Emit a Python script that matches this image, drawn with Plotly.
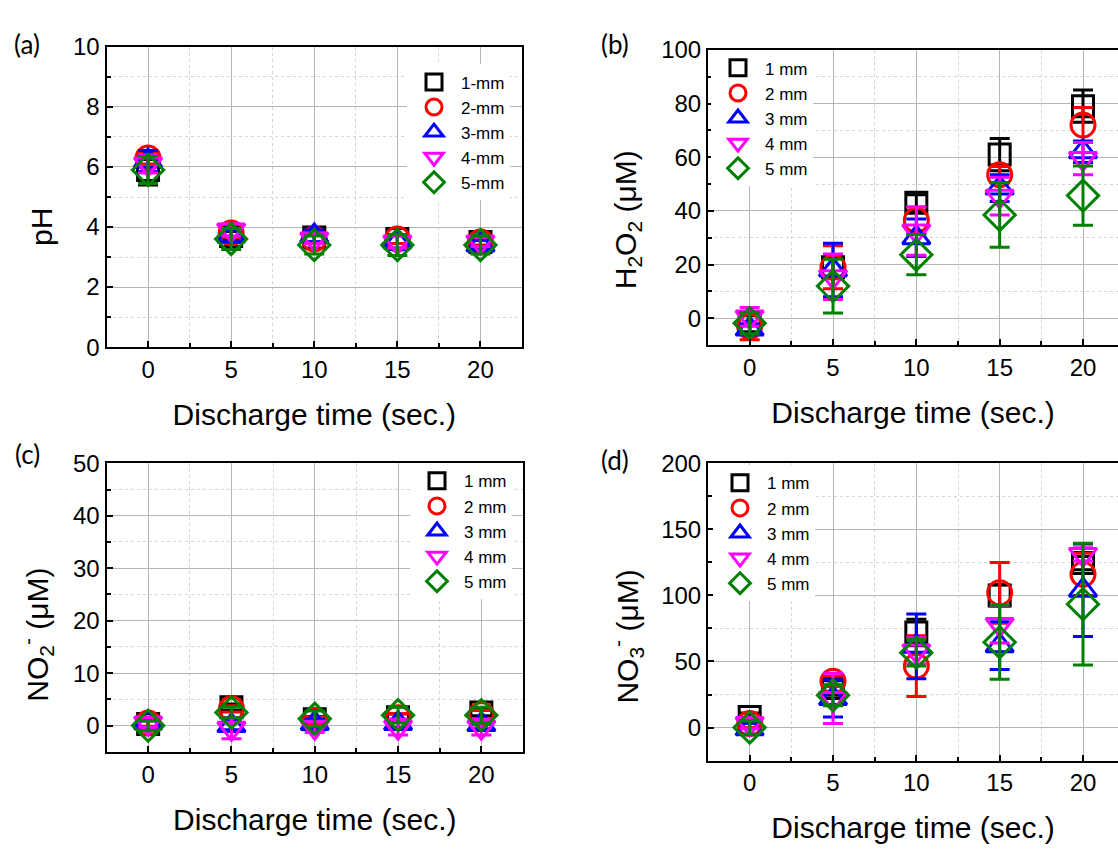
import plotly.graph_objects as go

# ---------------- data ----------------
times = [0, 5, 10, 15, 20]
labels_a = ["1-mm", "2-mm", "3-mm", "4-mm", "5-mm"]
labels_b = ["1 mm", "2 mm", "3 mm", "4 mm", "5 mm"]

ph_1 = [5.9, 3.7, 3.65, 3.6, 3.5]
ph_2 = [6.3, 3.8, 3.6, 3.6, 3.5]
ph_3 = [6.2, 3.7, 3.7, 3.5, 3.4]
ph_4 = [6.1, 3.9, 3.6, 3.5, 3.5]
ph_5 = [5.9, 3.6, 3.4, 3.4, 3.4]
ph_err_1 = [0.5, 0.15, 0.15, 0.15, 0.15]
ph_err_2 = [0.2, 0.15, 0.15, 0.15, 0.1]
ph_err_3 = [0.35, 0.2, 0.2, 0.25, 0.15]
ph_err_4 = [0.3, 0.2, 0.15, 0.2, 0.15]
ph_err_5 = [0.45, 0.35, 0.3, 0.35, 0.3]

h2o2_1 = [-2, 19, 43, 61, 79]
h2o2_2 = [-3, 19, 36.5, 53.5, 72]
h2o2_3 = [-4, 18, 30, 48.5, 62]
h2o2_4 = [0.5, 15.5, 32.5, 45.5, 59.5]
h2o2_5 = [-1.8, 12, 23.7, 38.5, 45.7]
h2o2_err_1 = [3, 4, 3, 6, 6]
h2o2_err_2 = [5, 8, 5, 3, 6.5]
h2o2_err_3 = [2, 10, 7, 5, 4]
h2o2_err_4 = [3.5, 8.5, 9, 7, 6]
h2o2_err_5 = [4, 10, 7.5, 12, 11]

no2_1 = [0.3, 3.5, 1.2, 1.6, 2.5]
no2_2 = [0.5, 3.2, 1.0, 1.5, 2.1]
no2_3 = [0.5, 0.0, 0.4, 0.4, 0.2]
no2_4 = [0.5, -0.5, -0.3, -0.3, -0.3]
no2_5 = [0.0, 2.5, 1.3, 2.0, 2.0]
no2_err_1 = [0.6, 0.6, 0.5, 0.6, 0.6]
no2_err_2 = [0.6, 0.6, 0.6, 0.8, 0.8]
no2_err_3 = [1.0, 0.8, 0.8, 0.8, 0.8]
no2_err_4 = [0.8, 2.0, 1.0, 1.5, 1.5]
no2_err_5 = [1.0, 1.0, 1.5, 1.5, 1.5]

no3_1 = [8, 30, 72, 100, 124.5]
no3_2 = [3, 35, 46.5, 102, 116]
no3_3 = [-1, 22, 61.5, 62, 104]
no3_4 = [3, 22, 58, 78, 131]
no3_5 = [0, 24.4, 56.6, 64.6, 93.4]
no3_err_1 = [3, 5.5, 10, 8, 5]
no3_err_2 = [3, 4, 23, 23, 16]
no3_err_3 = [4, 14, 24.5, 18, 35]
no3_err_4 = [4, 19, 10, 14, 5]
no3_err_5 = [5, 8, 10, 28, 46]

# ---------------- style ----------------
W, H = 1118, 852
colors = ["#000000", "#ff0000", "#0000ff", "#ff00ff", "#008000"]
symbols = ["square-open", "circle-open", "triangle-up-open", "triangle-down-open", "diamond-open"]
sizes = [21, 24, 24, 24, 24]
FONT = "Arial, Liberation Sans, sans-serif"

panels = [
    dict(vals=[ph_1, ph_2, ph_3, ph_4, ph_5],
         errs=[ph_err_1, ph_err_2, ph_err_3, ph_err_4, ph_err_5],
         names=labels_a, xs="x", ys="y", legend="legend"),
    dict(vals=[h2o2_1, h2o2_2, h2o2_3, h2o2_4, h2o2_5],
         errs=[h2o2_err_1, h2o2_err_2, h2o2_err_3, h2o2_err_4, h2o2_err_5],
         names=labels_b, xs="x2", ys="y2", legend="legend2"),
    dict(vals=[no2_1, no2_2, no2_3, no2_4, no2_5],
         errs=[no2_err_1, no2_err_2, no2_err_3, no2_err_4, no2_err_5],
         names=labels_b, xs="x3", ys="y3", legend="legend3"),
    dict(vals=[no3_1, no3_2, no3_3, no3_4, no3_5],
         errs=[no3_err_1, no3_err_2, no3_err_3, no3_err_4, no3_err_5],
         names=labels_b, xs="x4", ys="y4", legend="legend4"),
]

fig = go.Figure()
for p in panels:
    for i in range(5):
        fig.add_trace(go.Scatter(
            x=times, y=p["vals"][i], name=p["names"][i], mode="markers",
            xaxis=p["xs"], yaxis=p["ys"], legend=p["legend"],
            marker=dict(symbol=symbols[i], size=sizes[i], color=colors[i],
                        line=dict(width=3, color=colors[i])),
            error_y=dict(type="data", array=p["errs"][i], visible=True,
                         color=colors[i], thickness=3, width=10),
        ))


def px_x(v):
    return v / W


def px_y(v):
    return 1 - v / H


title_font = dict(family=FONT, size=30, color="black")
XTITLE = "Discharge time (sec.)"


def xaxis(dom, rng, anchor):
    return dict(domain=dom, range=rng, anchor=anchor, tickvals=times,
                ticks="inside", ticklen=6, tickwidth=1.5, tickcolor="black",
                showline=True, linewidth=2, linecolor="black", mirror=True,
                showgrid=True, gridcolor="#b5b5b5", gridwidth=1, zeroline=False,
                tickfont=dict(family=FONT, size=24, color="black"),
                title=dict(text=XTITLE, font=title_font, standoff=22),
                minor=dict(tick0=0, dtick=2.5, ticks="inside", ticklen=4,
                           tickcolor="black", showgrid=True,
                           gridcolor="#d4d4d4", griddash="dot", gridwidth=1))


def yaxis(dom, rng, dtick, mdtick, anchor, mirror):
    return dict(domain=dom, range=rng, anchor=anchor, tick0=0, dtick=dtick,
                ticks="inside", ticklen=6, tickwidth=1.5, tickcolor="black",
                showline=True, linewidth=2, linecolor="black", mirror=mirror,
                showgrid=True, gridcolor="#b5b5b5", gridwidth=1, zeroline=False,
                tickfont=dict(family=FONT, size=24, color="black"),
                minor=dict(tick0=0, dtick=mdtick, ticks="inside", ticklen=4,
                           tickcolor="black", showgrid=True,
                           gridcolor="#d4d4d4", griddash="dot", gridwidth=1))


# panel pixel boxes
a_x = [px_x(106.5), px_x(522)]
a_y = [px_y(344), px_y(34)]
b_x = [px_x(708), 1.0]
b_y = [px_y(342), px_y(37)]
c_x = [px_x(106.5), px_x(523)]
c_y = [px_y(762), px_y(464)]
d_x = [px_x(708), 1.0]
d_y = [px_y(771), px_y(464)]


def legend_at(x_px, y_px):
    return dict(x=px_x(x_px), y=px_y(y_px), xanchor="left", yanchor="top",
                bgcolor="white", borderwidth=0, itemwidth=44,
                font=dict(family=FONT, size=17, color="black"))


fig.update_layout(
    width=W, height=H, margin=dict(l=0, r=0, t=0, b=0),
    paper_bgcolor="white", plot_bgcolor="white",
    xaxis=xaxis(a_x, [-2.5, 22.5], "y"),
    yaxis=yaxis(a_y, [0, 10], 2, 1, "x", True),
    xaxis2=xaxis(b_x, [-2.5, 22.1], "y2"),
    yaxis2=yaxis(b_y, [-10, 100], 20, 10, "x2", False),
    xaxis3=xaxis(c_x, [-2.5, 22.5], "y3"),
    yaxis3=yaxis(c_y, [-5, 50], 10, 5, "x3", True),
    xaxis4=xaxis(d_x, [-2.5, 22.1], "y4"),
    yaxis4=yaxis(d_y, [-25, 200], 50, 25, "x4", False),
    legend=legend_at(407, 52),
    legend2=legend_at(711, 37.5),
    legend3=legend_at(410, 464),
    legend4=legend_at(713, 466),
    showlegend=True,
)

ann = []
ytitles = [("pH", 41, 220),
           ("H<sub>2</sub>O<sub>2</sub> (μM)", 627, 213),
           ("NO<sub>2</sub><sup>-</sup> (μM)", 37, 641),
           ("NO<sub>3</sub><sup>-</sup> (μM)", 627, 643)]
for t, cx, cy in ytitles:
    ann.append(dict(text=t, x=px_x(cx), y=px_y(cy), xref="paper", yref="paper",
                    xanchor="center", yanchor="middle", textangle=-90,
                    showarrow=False, font=title_font))
for t, cx, cy in [("(a)", 27, 31), ("(b)", 615, 31), ("(c)", 27, 454), ("(d)", 615, 461)]:
    ann.append(dict(text=t, x=px_x(cx), y=px_y(cy), xref="paper", yref="paper",
                    xanchor="center", yanchor="middle", showarrow=False,
                    font=dict(family="Lato, Open Sans, sans-serif", size=26, color="black")))
fig.update_layout(annotations=ann)

fig.write_html("out.html",
               config={"displayModeBar": False},
               post_script="document.body.style.margin='0';"
                           "document.body.style.overflow='hidden';")
